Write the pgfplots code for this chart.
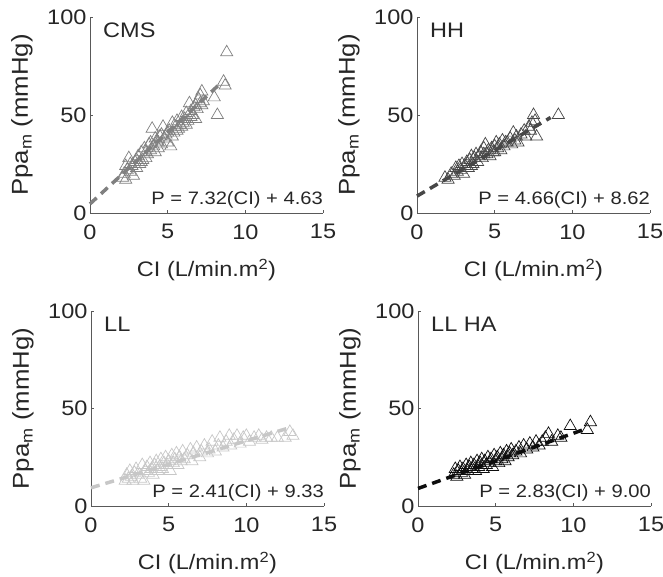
\documentclass[border=0pt]{standalone}
\usepackage{pgfplots}
\pgfplotsset{compat=1.18}
\usepackage{fontspec}
\setmainfont[FakeStretch=1.12]{Liberation Sans}

\definecolor{axisgray}{gray}{0.35}
\definecolor{cmsgray}{gray}{0.50}
\definecolor{hhgray}{gray}{0.28}
\definecolor{llgray}{gray}{0.78}
\definecolor{llhagray}{gray}{0.05}

\pgfplotsset{
  panel/.style={
    scale only axis,
    width=233pt, height=196pt,
    anchor=south west,
    xmin=0, xmax=15, ymin=0, ymax=100,
    xtick={0,5,10,15}, ytick={0,50,100},
    axis lines=left,
    axis line style={-, draw=axisgray, line width=0.8pt},
    tick style={draw=axisgray, line width=0.8pt},
    tick align=inside,
    major tick length=3pt,
    /pgf/number format/assume math mode=true,
    tick label style={font=\fontsize{21}{24}\selectfont, text=black!85},
    xticklabel style={yshift=-8pt},
    xlabel={CI (L/min.m\textsuperscript{2})},
    ylabel={Ppa\textsubscript{m} (mmHg)},
    xlabel style={font=\fontsize{21}{24}\selectfont, text=black!85,
      at={(axis description cs:0.5,0)}, anchor=center, yshift=-57pt},
    ylabel style={font=\fontsize{23}{26}\selectfont, text=black!85,
      at={(axis description cs:0,0.5)}, anchor=center, yshift=68pt},
    clip=false,
  },
  pts/.style={only marks, mark=triangle, mark size=7pt,
    mark options={line width=0.7pt, fill=none}, color=#1},
  fit/.style={no marks, color=#1, line width=3.5pt, dash pattern=on 9pt off 6pt},
}

\newcommand{\panelname}[1]{\node[anchor=north west, inner sep=0pt, xshift=13pt, yshift=-6pt,
  font=\fontsize{21}{24}\selectfont, text=black!85] at (rel axis cs:0,1) {#1};}
\newcommand{\eqn}[1]{\node[anchor=base east, inner sep=0pt, yshift=9pt,
  font=\fontsize{18}{22}\selectfont, text=black!85] at (rel axis cs:1,0) {#1};}

\begin{document}
\begin{tikzpicture}[x=1pt,y=1pt]
\useasboundingbox (0,0) rectangle (663,576);

% ---- CMS ----
\begin{axis}[panel, at={(90pt,363pt)}]
  \addplot[pts=cmsgray] coordinates {
    (2.1,18) (2.2,20) (2.3,17) (2.4,22) (2.5,28) (2.6,21) (2.7,24) (2.8,19)
    (2.9,26) (3.0,23) (3.1,29) (3.2,25) (3.3,31) (3.4,27) (3.5,33) (3.6,28)
    (3.7,30) (3.8,35) (3.9,32) (4.0,43) (4.1,34) (4.2,31) (4.3,37) (4.4,36)
    (4.5,39) (4.6,35) (4.7,44) (4.8,38) (4.9,40) (5.0,36) (5.1,42) (5.2,34)
    (5.3,46) (5.4,41) (5.5,44) (5.6,47) (5.7,43) (5.8,45) (5.9,49) (6.0,46)
    (6.1,48) (6.2,51) (6.3,47) (6.4,56) (6.5,52) (6.6,50) (6.7,54) (6.8,48)
    (6.9,53) (7.0,58) (7.1,60) (7.2,62) (7.3,57) (7.2,55) (8.0,59) (8.2,50)
    (8.6,67) (8.7,65) (8.8,82) (3.0,27) (3.6,31) (4.2,38) (5.0,41) (5.6,42)
    (6.2,45) (6.8,55) (2.6,25) (4.6,40) (7.1,56) (2.3,24) (3.3,26) (3.9,36)
    (4.4,33) (5.3,39) (5.9,44) (6.5,49)
  };
  \addplot[fit=cmsgray] coordinates {(0,4.63) (8.5,66.85)};
  \panelname{CMS}
  \eqn{P = 7.32(CI) + 4.63}
\end{axis}

% ---- HH ----
\begin{axis}[panel, at={(417pt,363pt)}]
  \addplot[pts=hhgray] coordinates {
    (1.8,18) (2.0,17) (2.2,20) (2.4,19) (2.5,23) (2.6,21) (2.8,22) (2.9,25)
    (3.0,20) (3.1,24) (3.2,26) (3.3,23) (3.4,27) (3.5,29) (3.6,25) (3.7,28)
    (3.8,30) (3.9,26) (4.0,29) (4.1,31) (4.2,28) (4.3,33) (4.4,35) (4.5,30)
    (4.6,32) (4.7,29) (4.8,33) (4.9,31) (5.0,34) (5.1,36) (5.2,33) (5.3,35)
    (5.4,32) (5.5,37) (5.6,34) (5.8,36) (6.0,38) (6.1,35) (6.2,41) (6.3,37)
    (6.5,36) (6.7,40) (6.9,42) (7.0,39) (7.2,44) (7.3,42) (7.4,46) (7.5,50)
    (7.6,47) (7.7,39) (9.1,50) (2.7,24) (3.5,24) (4.3,30) (5.0,31) (5.7,36)
    (6.4,39)
  };
  \addplot[fit=hhgray] coordinates {(0,8.62) (8.6,48.70)};
  \panelname{HH}
  \eqn{P = 4.66(CI) + 8.62}
\end{axis}

% ---- LL ----
\begin{axis}[panel, at={(91pt,70pt)}, height=195pt]
  \addplot[pts=llgray] coordinates {
    (2.2,13) (2.3,16) (2.4,14) (2.5,18) (2.6,15) (2.7,13) (2.8,17) (2.9,19)
    (3.0,16) (3.2,14) (3.3,21) (3.4,13) (3.5,18) (3.6,20) (3.7,17) (3.8,22)
    (3.9,19) (4.0,16) (4.1,21) (4.2,23) (4.3,18) (4.4,20) (4.5,24) (4.6,19)
    (4.7,22) (4.8,25) (4.9,21) (5.0,23) (5.1,18) (5.2,26) (5.3,22) (5.4,24)
    (5.5,27) (5.6,21) (5.7,25) (5.8,23) (5.9,28) (6.0,24) (6.2,26) (6.4,29)
    (6.5,23) (6.6,27) (6.8,30) (7.0,25) (7.1,28) (7.3,31) (7.5,27) (7.6,29)
    (7.8,33) (8.0,28) (8.2,31) (8.3,35) (8.5,30) (8.7,33) (8.9,36) (9.0,31)
    (9.2,34) (9.4,36) (9.6,32) (9.8,35) (10.0,36) (10.2,33) (10.5,35) (10.8,36)
    (11.0,34) (11.3,35) (11.6,35) (12.0,35) (12.5,35) (12.8,38) (13.0,36)
  };
  \addplot[fit=llgray] coordinates {(0,9.33) (12.8,40.18)};
  \panelname{LL}
  \eqn{P = 2.41(CI) + 9.33}
\end{axis}

% ---- LL HA ----
\begin{axis}[panel, at={(418pt,70pt)}, height=195pt]
  \addplot[pts=llhagray] coordinates {
    (2.3,16) (2.4,19) (2.5,15) (2.6,18) (2.7,20) (2.8,17) (2.9,19) (3.0,16)
    (3.1,21) (3.2,18) (3.3,20) (3.4,22) (3.5,19) (3.6,21) (3.7,18) (3.8,23)
    (3.9,20) (4.0,22) (4.1,24) (4.2,19) (4.3,23) (4.4,21) (4.5,25) (4.6,22)
    (4.7,24) (4.8,20) (4.9,26) (5.0,23) (5.1,25) (5.2,22) (5.3,27) (5.4,24)
    (5.5,26) (5.6,23) (5.7,28) (5.8,25) (5.9,27) (6.0,29) (6.1,26) (6.3,28)
    (6.5,30) (6.6,27) (6.8,31) (7.0,29) (7.2,32) (7.4,30) (7.6,33) (7.8,31)
    (8.0,33) (8.2,35) (8.4,37) (8.6,33) (9.0,36) (9.2,35) (9.8,41) (10.9,39)
    (11.1,43)
  };
  \addplot[fit=llhagray] coordinates {(0,9.00) (10.8,39.56)};
  \panelname{LL HA}
  \eqn{P = 2.83(CI) + 9.00}
\end{axis}
\end{tikzpicture}
\end{document}
